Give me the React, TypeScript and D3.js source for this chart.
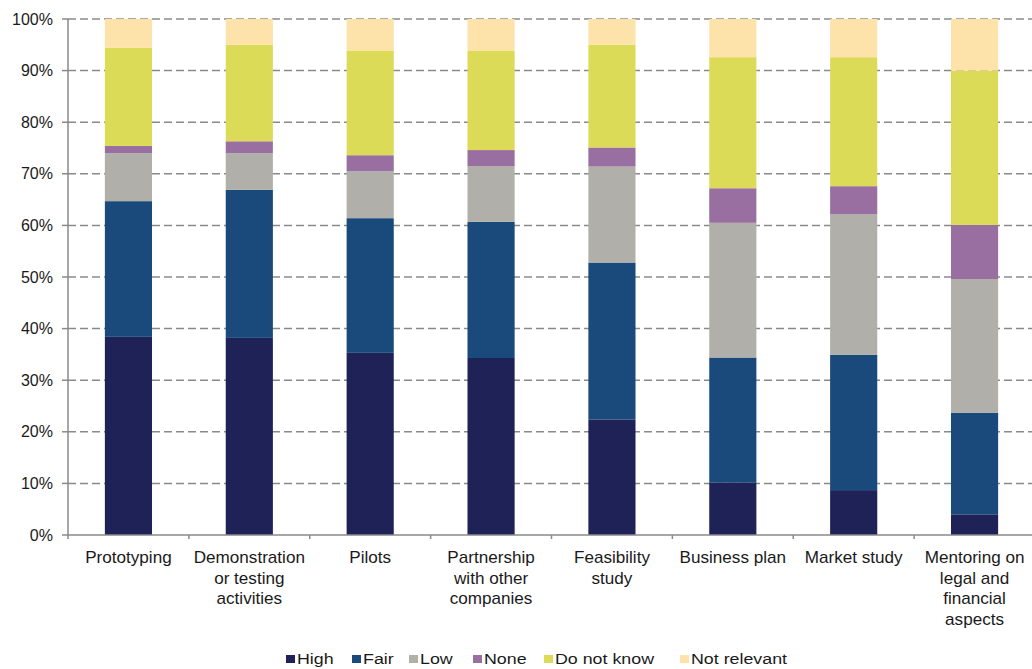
import React from "react";
import * as d3 from "d3";

const categories: string[][] = [
  ["Prototyping"],
  ["Demonstration", "or testing", "activities"],
  ["Pilots"],
  ["Partnership", "with other", "companies"],
  ["Feasibility", "study"],
  ["Business plan"],
  ["Market study"],
  ["Mentoring on", "legal and", "financial", "aspects"],
];

const seriesNames = ["High", "Fair", "Low", "None", "Do not know", "Not relevant"];
const seriesColors = ["#1e2257", "#1a4a7c", "#b1afa9", "#986fa0", "#dcdb58", "#fde2a9"];

const high = [38.4, 38.2, 35.3, 34.3, 22.4, 10.2, 8.7, 4.0];
const fair = [26.3, 28.7, 26.1, 26.4, 30.4, 24.2, 26.2, 19.7];
const low = [9.3, 7.1, 9.1, 10.8, 18.6, 26.1, 27.3, 25.9];
const none = [1.4, 2.3, 3.1, 3.1, 3.7, 6.7, 5.4, 10.5];
const doNotKnow = [19.0, 18.7, 20.2, 19.2, 19.9, 25.4, 25.0, 29.9];
const notRelevant = [5.6, 5.0, 6.2, 6.2, 5.0, 7.4, 7.4, 10.0];

const yTicks = [0, 10, 20, 30, 40, 50, 60, 70, 80, 90, 100];

const W = 1032;
const H = 669;
const FONT = "'Liberation Sans', Arial, sans-serif";

export default function App() {
  const left = 68;
  const right = 1035;
  const top = 19;
  const bottom = 535;

  const keys = seriesNames;
  const rows = categories.map((c, i) => ({
    idx: String(i),
    High: high[i],
    Fair: fair[i],
    Low: low[i],
    None: none[i],
    "Do not know": doNotKnow[i],
    "Not relevant": notRelevant[i],
  }));

  const x = d3
    .scaleBand<string>()
    .domain(rows.map((r) => r.idx))
    .range([left, right])
    .paddingInner(0.61)
    .paddingOuter(0.305);
  const band = (right - left) / categories.length;
  const y = d3.scaleLinear().domain([0, 100]).range([bottom, top]);

  const stacked = d3
    .stack<any>()
    .keys(keys)
    .order(d3.stackOrderNone)
    .offset(d3.stackOffsetExpand)(rows);

  const legendItems = [
    { name: "High", x: 286 },
    { name: "Fair", x: 352 },
    { name: "Low", x: 409 },
    { name: "None", x: 473 },
    { name: "Do not know", x: 544 },
    { name: "Not relevant", x: 680 },
  ];

  return (
    <svg
      width={W}
      height={H}
      style={{ position: "absolute", left: 0, top: 0, background: "#fff" }}
      fontFamily={FONT}
    >
      {/* dashed gridlines */}
      {yTicks.map((t) => (
        <line
          key={"g" + t}
          x1={left}
          x2={W}
          y1={y(t)}
          y2={y(t)}
          stroke="#8a8a8a"
          strokeWidth={1.5}
          strokeDasharray="8,4"
          opacity={t === 0 ? 0 : 1}
        />
      ))}

      {/* stacked bars */}
      {stacked.map((layer, si) => (
        <g key={keys[si]} fill={seriesColors[si]}>
          {layer.map((d, i) => (
            <rect
              key={i}
              x={x(String(i))}
              width={x.bandwidth()}
              y={y(d[1] * 100)}
              height={y(d[0] * 100) - y(d[1] * 100)}
            />
          ))}
        </g>
      ))}

      {/* y axis */}
      <line x1={left} x2={left} y1={top} y2={bottom} stroke="#8a8a8a" strokeWidth={1.5} />
      {yTicks.map((t) => (
        <g key={"t" + t}>
          <line x1={left - 6} x2={left} y1={y(t)} y2={y(t)} stroke="#8a8a8a" strokeWidth={1.5} />
          <text
            x={left - 15}
            y={y(t)}
            dy="0.35em"
            textAnchor="end"
            fontSize={16}
            fill="#1a1a1a"
          >
            {t}%
          </text>
        </g>
      ))}

      {/* x axis */}
      <line x1={left} x2={right} y1={bottom} y2={bottom} stroke="#8a8a8a" strokeWidth={1.5} />
      {d3.range(categories.length + 1).map((k) => (
        <line
          key={"xt" + k}
          x1={left + k * band}
          x2={left + k * band}
          y1={bottom}
          y2={bottom + 4}
          stroke="#8a8a8a"
          strokeWidth={1.5}
        />
      ))}
      {categories.map((lines, i) => {
        const cx = (x(String(i)) as number) + x.bandwidth() / 2;
        return (
          <text
            key={"c" + i}
            transform={`translate(${cx},563) scale(1.07,1)`}
            textAnchor="middle"
            fontSize={16}
            fill="#1a1a1a"
          >
            {lines.map((l, j) => (
              <tspan key={j} x={0} dy={j === 0 ? 0 : 20.7}>
                {l}
              </tspan>
            ))}
          </text>
        );
      })}

      {/* legend */}
      {legendItems.map((it) => {
        const si = seriesNames.indexOf(it.name);
        return (
          <g key={it.name}>
            <rect x={it.x} y={655} width={9} height={8} fill={seriesColors[si]} />
            <text
              transform={`translate(${it.x + 11},664) scale(1.15,1)`}
              fontSize={15.5}
              fill="#1a1a1a"
            >
              {it.name}
            </text>
          </g>
        );
      })}
    </svg>
  );
}
